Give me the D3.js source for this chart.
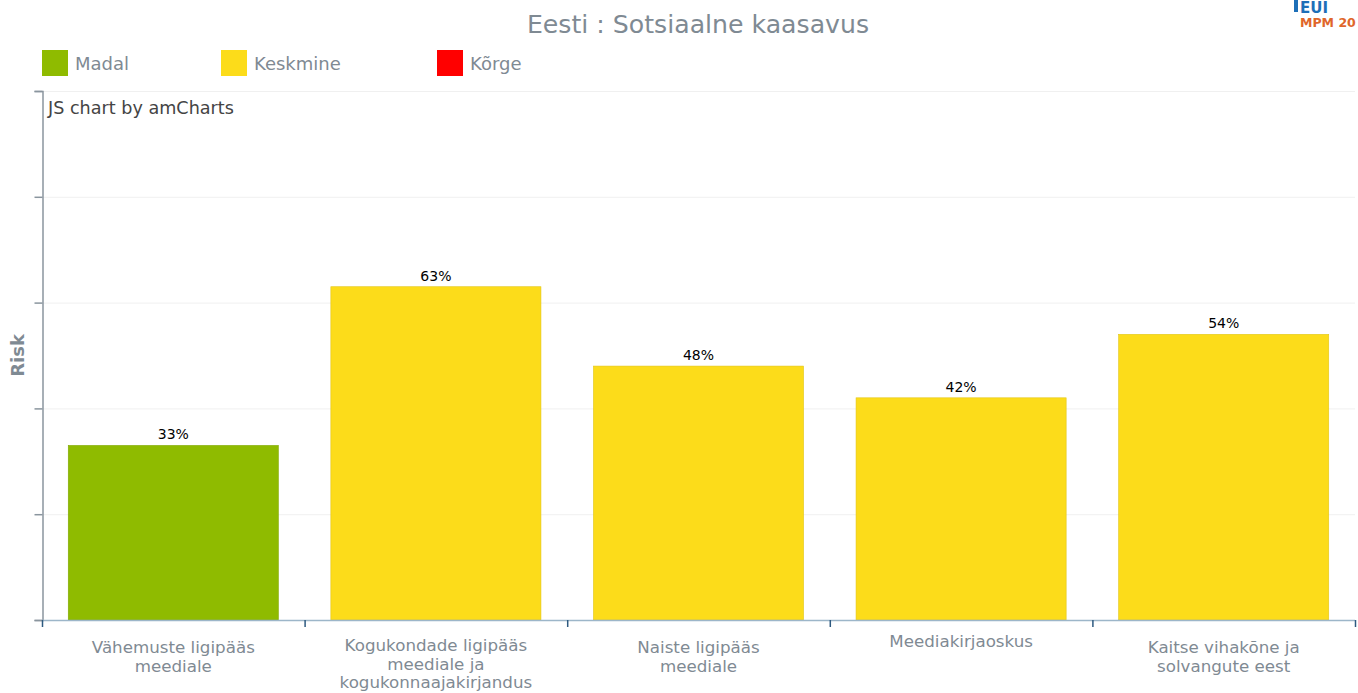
<!DOCTYPE html>
<html>
<head>
<meta charset="utf-8">
<script src="https://cdn.jsdelivr.net/npm/d3@7"></script>
<style>
  body { margin: 0; background: #ffffff; }
  text { font-family: "DejaVu Sans", Verdana, sans-serif; }
</style>
</head>
<body>
<div id="chart"></div>
<script>
// data
var categories = [
    ["Vähemuste ligipääs", "meediale"],
    ["Kogukondade ligipääs", "meediale ja", "kogukonnaajakirjandus"],
    ["Naiste ligipääs", "meediale"],
    ["Meediakirjaoskus"],
    ["Kaitse vihakõne ja", "solvangute eest"]
];
var values = [33, 63, 48, 42, 54];
var levels = ["Madal", "Keskmine", "Keskmine", "Keskmine", "Keskmine"];
var legendLabels = ["Madal", "Keskmine", "Kõrge"];
var legendColors = ["#8fbb00", "#fcdc1a", "#ff0000"];
var yTicks = [0, 20, 40, 60, 80, 100];

var totalWidth = 1358;
var totalHeight = 693;
var margin = { left: 42, top: 91, right: 3, bottom: 73 };
var width = totalWidth - margin.left - margin.right;
var height = totalHeight - margin.top - margin.bottom;

var colour = d3.scaleOrdinal().domain(legendLabels).range(legendColors);

var x = d3.scaleBand()
    .domain(d3.range(values.length))
    .range([0, width])
    .paddingInner(0.2)
    .paddingOuter(0.1);
var y = d3.scaleLinear().domain([0, 100]).range([height, 0]);

var svg = d3.select('#chart')
    .append('svg')
        .attr('width', totalWidth)
        .attr('height', totalHeight);

// title
svg.append('text')
    .attr('x', 698).attr('y', 33)
    .attr('text-anchor', 'middle')
    .attr('font-size', 25.2)
    .attr('fill', '#7f8a93')
    .text('Eesti : Sotsiaalne kaasavus');

// logo corner (cropped in reference)
svg.append('rect').attr('x', 1294).attr('y', 0).attr('width', 4).attr('height', 12).attr('fill', '#1d6fb8');
svg.append('text')
    .attr('x', 1300).attr('y', 13)
    .attr('font-size', 15).attr('font-weight', 'bold')
    .attr('fill', '#1d6fb8')
    .text('EUI');
svg.append('text')
    .attr('x', 1300).attr('y', 27)
    .attr('font-size', 12.5).attr('font-weight', 'bold')
    .attr('fill', '#e0662a')
    .text('MPM 20');

// legend
var legendX = [42, 221, 437];
var legend = svg.selectAll('.legend').data(legendLabels).enter().append('g')
    .attr('class', 'legend')
    .attr('transform', function(d, i) { return 'translate(' + legendX[i] + ',50)'; });
legend.append('rect')
    .attr('width', 26).attr('height', 26)
    .attr('fill', function(d) { return colour(d); });
legend.append('text')
    .attr('x', 33).attr('y', 20)
    .attr('font-size', 18)
    .attr('fill', '#7f8a93')
    .text(function(d) { return d; });

var g = svg.append('g')
    .attr('transform', 'translate(' + margin.left + ',' + margin.top + ')');

// gridlines
g.selectAll('.grid').data(yTicks).enter().append('line')
    .attr('class', 'grid')
    .attr('x1', 0).attr('x2', width)
    .attr('y1', function(d) { return y(d) + 0.5; })
    .attr('y2', function(d) { return y(d) + 0.5; })
    .attr('stroke', '#f0f0f0');

// y axis, no labels
var yAxis = d3.axisLeft(y).tickValues(yTicks).tickSize(8).tickFormat('');
var yg = g.append('g').attr('transform', 'translate(0.5,0)').call(yAxis);
yg.select('.domain').attr('stroke', '#8a959e').attr('stroke-width', 1.5);
yg.selectAll('.tick line').attr('stroke', '#8a959e').attr('stroke-width', 1.5);

svg.append('text')
    .attr('transform', 'translate(24,' + (margin.top + height / 2) + ') rotate(-90)')
    .attr('text-anchor', 'middle')
    .attr('font-size', 18).attr('font-weight', 'bold')
    .attr('fill', '#7f8a93')
    .text('Risk');

svg.append('text')
    .attr('x', 48).attr('y', 114)
    .attr('font-size', 17.6)
    .attr('fill', '#444444')
    .text('JS chart by amCharts');

// bars
g.selectAll('.bar').data(values).enter().append('rect')
    .attr('class', 'bar')
    .attr('x', function(d, i) { return x(i); })
    .attr('width', x.bandwidth())
    .attr('y', function(d) { return y(d); })
    .attr('height', function(d) { return height - y(d); })
    .attr('fill', function(d, i) { return colour(levels[i]); })
    .attr('stroke', function(d, i) { return d3.color(colour(levels[i])).darker(0.3); })
    .attr('stroke-width', 0.6);

g.selectAll('.val').data(values).enter().append('text')
    .attr('class', 'val')
    .attr('x', function(d, i) { return x(i) + x.bandwidth() / 2; })
    .attr('y', function(d) { return y(d) - 6; })
    .attr('text-anchor', 'middle')
    .attr('font-size', 14)
    .attr('fill', '#000000')
    .text(function(d) { return d + '%'; });

// x axis with ticks at band boundaries
var bounds = d3.range(values.length + 1).map(function(i) { return i * width / values.length; });
g.append('line')
    .attr('x1', 0).attr('x2', width)
    .attr('y1', height + 0.5).attr('y2', height + 0.5)
    .attr('stroke', '#9db6c9').attr('stroke-width', 1.5);
g.selectAll('.xtick').data(bounds).enter().append('line')
    .attr('class', 'xtick')
    .attr('x1', function(d) { return d + 0.5; }).attr('x2', function(d) { return d + 0.5; })
    .attr('y1', height).attr('y2', height + 7)
    .attr('stroke', '#2e5a80').attr('stroke-width', 1.5);

// category labels
var firstLine = { 1: 27, 2: 33, 3: 31 };
var labels = g.selectAll('.cat').data(categories).enter().append('g')
    .attr('class', 'cat')
    .attr('transform', function(d, i) {
        return 'translate(' + (x(i) + x.bandwidth() / 2) + ',' + (height + firstLine[d.length]) + ')';
    });
labels.selectAll('text').data(function(d) { return d; }).enter().append('text')
    .attr('y', function(d, j) { return j * 18.7; })
    .attr('text-anchor', 'middle')
    .attr('font-size', 16.7)
    .attr('fill', '#7f8a93')
    .text(function(d) { return d; });
</script>
</body>
</html>
